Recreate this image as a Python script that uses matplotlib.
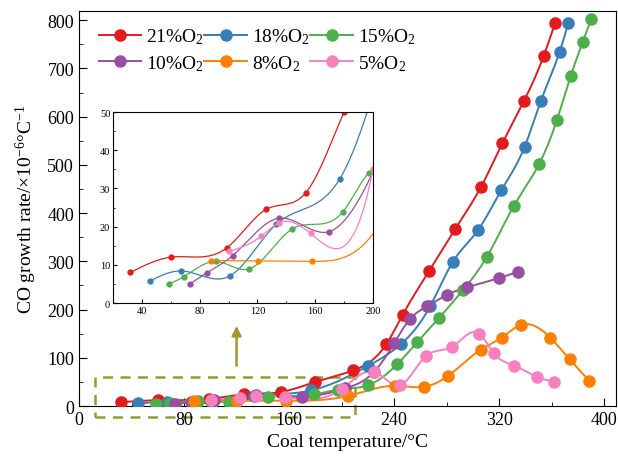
import numpy as np
import matplotlib
matplotlib.use("Agg")
import matplotlib.pyplot as plt
from matplotlib.ticker import MultipleLocator
from matplotlib.patches import Rectangle

plt.rcParams['font.family'] = ['Liberation Serif', 'DejaVu Serif']
plt.rcParams['mathtext.fontset'] = 'custom'
plt.rcParams['mathtext.rm'] = 'Liberation Serif'
plt.rcParams['mathtext.it'] = 'Liberation Serif:italic'

# values (temperature in degC, CO growth rate)
labels = ['21%O$_2$', '18%O$_2$', '15%O$_2$', '10%O$_2$', '8%O$_2$', '5%O$_2$']
colors = ['#e41a1c', '#377eb8', '#4daf4a', '#984ea3', '#ff7f00', '#f781bf']

x21 = [32, 60, 99, 126, 153.6, 180, 209, 234, 246.5, 266.7, 286.5, 306.3, 322.5, 339, 353.8, 362.7]
y21 = [8, 12, 14.5, 24.5, 28.9, 50, 74, 128, 189, 280, 367, 455, 545, 633, 725, 795]
x18 = [45.3, 67.2, 101, 133, 177, 220.4, 245, 267.4, 284.7, 304, 321.5, 339.3, 351.8, 366, 372.8]
y18 = [5.7, 8.4, 7.1, 20.6, 32.5, 83.5, 128, 206.6, 299, 365, 447, 537, 633, 734, 795]
x15 = [58.5, 69.1, 91, 113.9, 143.7, 179.2, 197, 220, 242.5, 257.8, 274, 292.3, 310.6, 331.2, 350.5, 364, 374.6, 383.7, 390]
y15 = [4.9, 6.9, 10.9, 8.9, 19.3, 23.9, 34, 43, 87, 133, 182, 240, 309, 415, 502, 593, 685, 755, 802]
x10 = [73, 85, 102.8, 134.7, 169.8, 202.7, 224.8, 240, 252, 265, 280.6, 295.4, 319.5, 334]
y10 = [4.9, 7.9, 12.4, 22.2, 18.7, 36.5, 71, 130, 180, 206.6, 231, 246, 265, 278]
x8 = [87.6, 120.4, 158, 205, 240.5, 263, 281.4, 306, 322, 337, 359, 373.6, 388.8]
y8 = [11.1, 11.0, 10.9, 21, 42, 40, 63, 117, 142, 168.5, 141.5, 97, 52]
x5 = [100.5, 122.7, 135, 156.8, 200, 225, 244.6, 264, 284.4, 304.8, 316, 331.4, 349, 362]
y5 = [13.5, 17.5, 21, 18.2, 35, 71, 43.5, 103, 123, 150, 109, 84, 60, 50]

series = [(x21, y21), (x18, y18), (x15, y15), (x10, y10), (x8, y8), (x5, y5)]


def smooth(x, y, n=400):
    # natural cubic spline through the measured points
    x = np.asarray(x, float)
    y = np.asarray(y, float)
    h = np.diff(x)
    m = len(x)
    A = np.zeros((m, m))
    b = np.zeros(m)
    A[0, 0] = A[-1, -1] = 1
    for i in range(1, m - 1):
        A[i, i - 1] = h[i - 1]
        A[i, i] = 2 * (h[i - 1] + h[i])
        A[i, i + 1] = h[i]
        b[i] = 3 * ((y[i + 1] - y[i]) / h[i] - (y[i] - y[i - 1]) / h[i - 1])
    c = np.linalg.solve(A, b)
    bb = (y[1:] - y[:-1]) / h - h * (2 * c[:-1] + c[1:]) / 3
    d = (c[1:] - c[:-1]) / (3 * h)
    xs = np.linspace(x[0], x[-1], n)
    k = np.clip(np.searchsorted(x, xs) - 1, 0, m - 2)
    dx = xs - x[k]
    return xs, y[k] + bb[k] * dx + c[k] * dx ** 2 + d[k] * dx ** 3


fig = plt.figure(figsize=(6.18, 4.64), dpi=100)
ax = fig.add_axes([0.1278, 0.1228, 0.869, 0.8513])

handles = []
for (xv, yv), col, lab in zip(series, colors, labels):
    xs, ys = smooth(xv, yv)
    ax.plot(xs, ys, color=col, lw=1.4, zorder=2)
    ax.plot(xv, yv, 'o', color=col, ms=8, zorder=3)
    h, = ax.plot([], [], '-o', color=col, lw=1.4, ms=8, label=lab)
    handles.append(h)

ax.set_xlim(0, 409)
ax.set_ylim(0, 819)
ax.xaxis.set_major_locator(MultipleLocator(80))
ax.xaxis.set_minor_locator(MultipleLocator(40))
ax.yaxis.set_major_locator(MultipleLocator(100))
ax.yaxis.set_minor_locator(MultipleLocator(50))
ax.tick_params(which='both', direction='in', labelsize=13)
ax.tick_params(which='major', length=6)
ax.tick_params(which='minor', length=3)
ax.set_xlabel('Coal temperature/°C', fontsize=14, labelpad=4)
ax.set_ylabel('CO growth rate/×10$^{-6}$°C$^{-1}$', fontsize=14, labelpad=6)

# legend is filled column by column, so reorder to read row by row
order = [0, 3, 1, 4, 2, 5]
ax.legend([handles[i] for i in order], [labels[i] for i in order],
          loc='upper left', bbox_to_anchor=(0.015, 0.99), ncol=3, frameon=False,
          fontsize=14, handlelength=2.2, handletextpad=0.25, columnspacing=0.0,
          labelspacing=0.35, borderaxespad=0.2)

olive = '#9c9a2e'
ax.add_patch(Rectangle((12, -23), 198, 83, fill=False, ec=olive, lw=1.8,
                       ls=(0, (4, 3)), clip_on=False, zorder=1))
ax.annotate('', xy=(120, 172), xytext=(120, 78),
            arrowprops=dict(arrowstyle='-|>', color=olive, lw=1.8, mutation_scale=14))

ins = fig.add_axes([0.1828, 0.3448, 0.4207, 0.4116])
for (xv, yv), col in zip(series, colors):
    xs, ys = smooth(xv, yv)
    ins.plot(xs, ys, color=col, lw=0.9)
    ins.plot(xv, yv, 'o', color=col, ms=3.5)
ins.set_xlim(20, 200)
ins.set_ylim(0, 50)
ins.xaxis.set_major_locator(MultipleLocator(40))
ins.xaxis.set_minor_locator(MultipleLocator(20))
ins.yaxis.set_major_locator(MultipleLocator(10))
ins.yaxis.set_minor_locator(MultipleLocator(5))
ins.tick_params(which='both', direction='in', labelsize=7.5, pad=2)
ins.tick_params(which='major', length=3)
ins.tick_params(which='minor', length=1.5)

fig.savefig('out.png', dpi=100)
